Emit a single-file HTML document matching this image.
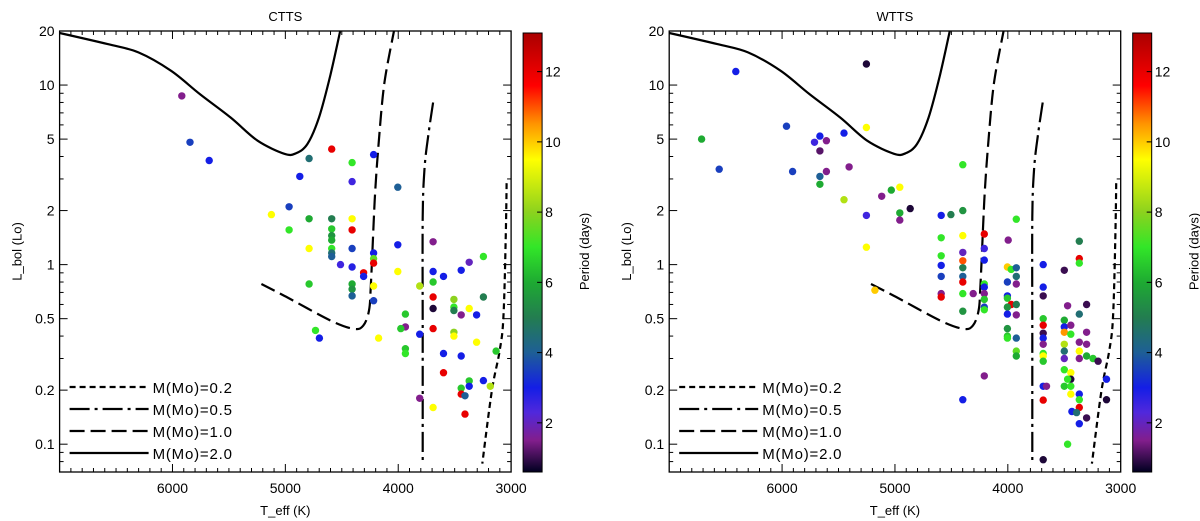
<!DOCTYPE html>
<html><head><meta charset="utf-8"><style>
html,body{margin:0;padding:0;background:#fff;}
svg{display:block;font-family:"Liberation Sans",sans-serif;}
</style></head>
<body>
<svg id="chart" width="1200" height="521" viewBox="0 0 1200 521">
<defs>
<linearGradient id="cmap" x1="0" y1="1" x2="0" y2="0"></linearGradient>
</defs>
</svg>
<script>
// ---- data ----
const panelTitles = ["CTTS", "WTTS"];
const xTicks = [6000, 5000, 4000, 3000];
const yTicks = [0.1, 0.2, 0.5, 1, 2, 5, 10, 20];
const yTickLabels = ["0.1", "0.2", "0.5", "1", "2", "5", "10", "20"];
const cbTicks = [2, 4, 6, 8, 10, 12];
const legendLabels = ["M(Mo)=0.2", "M(Mo)=0.5", "M(Mo)=1.0", "M(Mo)=2.0"];

// CTTS: T_eff, L_bol, period
const cttsT = [5917,5845,5675,4589,4790,4409,4218,4872,4409,4004,4967,5124,4790,4589,4409,4967,4589,4409,4589,4589,3691,4004,4790,4589,4409,4589,4589,4218,3245,4218,4511,4409,4218,3371,4004,3691,3442,3599,4307,4307,4790,4409,3691,3810,4218,4409,4409,3691,3245,3507,4218,3507,3691,3371,3507,3442,3306,3936,3936,3977,3691,3507,3810,4733,4698,4174,3507,3306,3936,3936,3133,3599,3442,3599,3245,3371,3371,3442,3184,3442,3408,3810,3691,3408];
const cttsL = [8.7,4.8,3.8,4.4,3.9,3.7,4.1,3.1,2.9,2.7,2.1,1.9,1.8,1.8,1.8,1.56,1.58,1.56,1.45,1.37,1.34,1.29,1.23,1.23,1.23,1.16,1.11,1.16,1.11,1.08,1.0,0.97,1.02,1.03,0.915,0.915,0.93,0.86,0.9,0.86,0.78,0.78,0.8,0.76,0.76,0.73,0.67,0.66,0.66,0.64,0.63,0.58,0.57,0.57,0.555,0.525,0.525,0.53,0.45,0.44,0.44,0.42,0.41,0.43,0.39,0.39,0.40,0.37,0.34,0.32,0.33,0.32,0.31,0.25,0.226,0.225,0.21,0.205,0.21,0.19,0.186,0.18,0.16,0.147];
const cttsP = [1.5,3.5,3,12,4.5,7,3,3,2.5,4,3.5,9.5,6,5,9.5,7,6.5,12,5.5,6,1.5,3,9.5,7,3.5,4.5,4,3,7,7.5,2.5,2.8,12,2,9.5,3,3,3,12,3,6.5,6,6.5,8.5,9.5,5.5,4,12,5,8,3.5,7,0.8,9.5,5,1.5,3,6.5,1.5,6.5,12,8,3,7,3,9.5,9.5,9.5,6.5,7,6.5,3,3,12,3,6.5,3,6.5,8.5,12,4,1.5,9.5,12];

// WTTS
const wttsT = [6410,5253,6713,5961,5713,5665,5607,5451,5253,5665,6557,5907,5665,5607,5406,5665,5032,4957,5117,5451,4865,4957,4957,5253,4590,4504,4399,4399,4399,5253,5178,3925,4208,3997,3367,4590,4399,4590,4399,4208,4208,4399,4590,4399,3687,4004,3970,3925,3500,3367,3367,4590,4399,3925,4004,4399,4208,3925,4208,3687,3687,4399,4307,4590,4590,4208,4208,4004,4004,3470,3302,4208,4208,3970,3925,4004,4399,4004,3925,3367,3687,3500,3687,3500,3442,4004,3687,3500,3442,3302,4004,4004,3925,3687,3687,3367,3302,3500,3367,3500,3925,3687,3925,3687,3500,3367,3302,3245,3200,3687,3500,3442,3442,3470,4208,3500,3442,3687,3657,3126,3442,3367,3367,3687,3126,3367,3432,3391,3302,3367,3470,3687];
const wttsL = [11.9,13.1,5.0,5.9,4.8,5.2,4.9,5.4,5.8,4.3,3.4,3.3,3.1,3.3,3.5,2.8,2.6,2.7,2.4,2.3,2.05,1.94,1.77,1.88,1.88,1.9,2.0,3.6,0.177,1.25,0.72,1.79,1.48,1.37,1.35,1.41,1.45,1.12,1.17,1.23,1.06,1.05,0.99,0.96,1.0,0.97,0.94,0.96,0.93,1.08,1.02,0.86,0.86,0.86,0.80,0.80,0.78,0.78,0.75,0.75,0.67,0.69,0.69,0.69,0.66,0.69,0.64,0.67,0.65,0.59,0.6,0.58,0.56,0.6,0.6,0.58,0.55,0.53,0.525,0.53,0.50,0.49,0.46,0.45,0.46,0.44,0.415,0.42,0.41,0.42,0.40,0.39,0.39,0.39,0.36,0.37,0.36,0.36,0.33,0.33,0.33,0.32,0.31,0.31,0.30,0.30,0.31,0.30,0.29,0.29,0.26,0.25,0.23,0.23,0.24,0.21,0.21,0.21,0.21,0.23,0.19,0.19,0.177,0.176,0.177,0.16,0.152,0.15,0.14,0.13,0.1,0.082];
const wttsP = [3,0.8,6,3.5,2.5,3,1.5,3,9.5,1.2,3.5,3.5,4,1.5,1.5,6,6,9.5,1.5,8.5,0.8,6,1.5,2.5,3,5,5.5,7,3,9.5,10,7,12,1.5,5,7,9.5,7,2,2.5,3,11,3,5,3,10,7,4,1,12,7,3.5,4,4.5,3.5,12,7,1.5,3,3,1,7,1.5,1.5,12,1.5,6.5,3,6.5,1.5,1,3.5,7,12,5,5.5,5.5,3,1.5,4.5,6.5,6,12,3,1.5,5.5,1,10.5,7,1.5,6.5,7,4,3,1.5,1.5,1.5,8.5,9.5,4.5,7.5,7,6,9.5,2,1.5,6,6.5,1,6.5,7,9.5,0.8,7,1.5,6.5,7,3,1.5,3,9.5,3,7,12,0.8,12,3,4.5,1,3,7,0.8];

// Evolutionary tracks (T_eff, L_bol)
const track02T = [3040,3047,3068,3102,3170,3255];
const track02L = [2.84,1.48,0.51,0.33,0.199,0.078];
const track05T = [3691,3732,3766,3783,3783,3783];
const track05L = [8.0,5.35,3.48,1.84,0.41,0.078];
const track10T = [5212,5008,4599,4395,4310,4259,4242,4208,4174,4123,4038];
const track10L = [0.78,0.67,0.488,0.439,0.457,0.555,0.78,2.28,4.7,10.2,19.9];
const track20T = [7000,6574,6302,6012,5757,5485,5246,5008,4906,4804,4702,4599,4514];
const track20L = [19.5,16.9,15.2,12.0,8.9,6.6,4.9,4.14,4.17,4.7,6.6,11.5,20];

// ---- layout ----
const svg = document.getElementById('chart');
const NS = 'http://www.w3.org/2000/svg';
const TOP = 31, BOT = 472, XMIN = 7000, XMAX = 3000, YMIN = 0.07, YMAX = 20, PMIN = 0.6, PMAX = 13.1;
const PW = 451.5;

function mk(tag, attrs, parent) {
  const e = document.createElementNS(NS, tag);
  for (const k in attrs) e.setAttribute(k, attrs[k]);
  (parent || svg).appendChild(e);
  return e;
}
function smoothPath(p) {
  let d = 'M' + p[0][0].toFixed(1) + ',' + p[0][1].toFixed(1);
  for (let i = 0; i < p.length - 1; i++) {
    const p0 = p[Math.max(0, i - 1)], p1 = p[i], p2 = p[i + 1], p3 = p[Math.min(p.length - 1, i + 2)];
    const c1x = p1[0] + (p2[0] - p0[0]) / 6, c1y = p1[1] + (p2[1] - p0[1]) / 6;
    const c2x = p2[0] - (p3[0] - p1[0]) / 6, c2y = p2[1] - (p3[1] - p1[1]) / 6;
    d += ' C' + [c1x, c1y, c2x, c2y, p2[0], p2[1]].map(v => v.toFixed(1)).join(',');
  }
  return d;
}
const cstops = [[0.6,[0,0,32]],[1.5,[130,30,140]],[2.3,[80,40,220]],[3,[20,30,230]],[4,[30,95,150]],[5,[35,125,80]],[6,[30,170,50]],[7,[50,230,40]],[8,[140,210,30]],[9.5,[255,255,0]],[10.5,[255,150,0]],[11.6,[255,0,0]],[13.1,[170,0,0]]];
function pcolor(p) {
  if (p <= cstops[0][0]) return 'rgb(' + cstops[0][1] + ')';
  for (let i = 1; i < cstops.length; i++) {
    if (p <= cstops[i][0]) {
      const a = cstops[i-1], b = cstops[i], t = (p - a[0]) / (b[0] - a[0]);
      const c = a[1].map((v, j) => Math.round(v + (b[1][j] - v) * t));
      return 'rgb(' + c.join(',') + ')';
    }
  }
  return 'rgb(' + cstops[cstops.length-1][1] + ')';
}
const grad = document.getElementById('cmap');
for (let i = 0; i < cstops.length; i++) {
  mk('stop', {offset: ((cstops[i][0]-PMIN)/(PMAX-PMIN)).toFixed(3), 'stop-color': pcolor(cstops[i][0])}, grad);
}

function drawPanel(idx, L, tT, tL, tP) {
  const g = mk('g', {});
  
  
  const sx = T => L + (XMIN - T) / (XMIN - XMAX) * PW;
  const sy = v => BOT - (Math.log10(v) - Math.log10(YMIN)) / (Math.log10(YMAX) - Math.log10(YMIN)) * (BOT - TOP);
  const R = L + PW;
  const title = mk('text', {x: (L + R) / 2, y: 21, 'font-size': 13, 'text-anchor': 'middle'}, g);
  title.textContent = panelTitles[idx];
  
  

  // tracks
  const tracks = [[track02T, track02L, '6,4'], [track05T, track05L, '20,5,3,5'], [track10T, track10L, '15,6'], [track20T, track20L, '']];
  const tnames = ['track-0.2', 'track-0.5', 'track-1.0', 'track-2.0'];
  tracks.forEach((tr, k) => {
    const pts = tr[0].map((T, i) => [sx(T), sy(tr[1][i])]);
    const pl = mk('path', {d: smoothPath(pts), fill: 'none', stroke: '#000', 'stroke-width': 2.2, 'stroke-dasharray': tr[2], 'stroke-linejoin': 'round'}, g);
    
    
  });

  // points
  tT.forEach((T, i) => {
    const c = mk('circle', {cx: sx(T).toFixed(1), cy: sy(tL[i]).toFixed(1), r: 3.7, fill: pcolor(tP[i])}, g);
    
    
  });

  // frame
  const fr = mk('rect', {x: L, y: TOP, width: PW, height: BOT - TOP, fill: 'none', stroke: '#000', 'stroke-width': 1.3}, g);
  
  

  // x ticks
  for (let T = 6900; T > 3000; T -= 100) {
    const major = T % 1000 === 0;
    mk('line', {x1: sx(T), x2: sx(T), y1: BOT, y2: BOT - (major ? 8 : 4), stroke: '#000', 'stroke-width': 1}, g);
    mk('line', {x1: sx(T), x2: sx(T), y1: TOP, y2: TOP + (major ? 8 : 4), stroke: '#000', 'stroke-width': 1}, g);
  }
  xTicks.forEach(T => {
    const t = mk('text', {x: sx(T), y: 493, 'font-size': 14, 'text-anchor': 'middle'}, g);
    t.textContent = T;
    
    
  });
  const xl = mk('text', {x: (L + R) / 2, y: 515, 'font-size': 13, 'text-anchor': 'middle'}, g);
  xl.textContent = 'T_eff (K)';
  
  

  // y minor ticks
  [0.07,0.08,0.09,0.3,0.4,0.6,0.7,0.8,0.9,3,4,6,7,8,9].forEach(v => {
    mk('line', {x1: L, x2: L + 4, y1: sy(v), y2: sy(v), stroke: '#000'}, g);
    mk('line', {x1: R, x2: R - 4, y1: sy(v), y2: sy(v), stroke: '#000'}, g);
  });
  yTicks.forEach((v, i) => {
    mk('line', {x1: L, x2: L + 8, y1: sy(v), y2: sy(v), stroke: '#000'}, g);
    mk('line', {x1: R, x2: R - 8, y1: sy(v), y2: sy(v), stroke: '#000'}, g);
    const t = mk('text', {x: L - 5, y: sy(v) + 5, 'font-size': 14, 'text-anchor': 'end'}, g);
    t.textContent = yTickLabels[i];
    
    
  });
  const yl = mk('text', {x: 0, y: 0, 'font-size': 13, 'text-anchor': 'middle', transform: 'translate(' + (L - 38) + ',' + ((TOP + BOT) / 2) + ') rotate(-90)'}, g);
  yl.textContent = 'L_bol (Lo)';
  
  

  // legend
  const dashes = ['6,4', '20,5,3,5', '15,6', ''];
  const lys = [387, 409, 431, 453];
  legendLabels.forEach((lab, k) => {
    const le = mk('g', {}, g);
    
    
    mk('line', {x1: L + 10, x2: L + 89, y1: lys[k], y2: lys[k], stroke: '#000', 'stroke-width': 2.2, 'stroke-dasharray': dashes[k]}, le);
    const t = mk('text', {x: L + 93, y: lys[k] + 6, 'font-size': 15, 'letter-spacing': 0.8}, le);
    t.textContent = lab;
  });

  // colorbar
  const cbx = R + 12;
  const cbw = 19;
  const cb = mk('rect', {x: cbx, y: 33, width: cbw, height: BOT - 33, fill: 'url(#cmap)', stroke: '#000', 'stroke-width': 1}, g);
  
  
  const cy = p => BOT - (p - PMIN) / (PMAX - PMIN) * (BOT - 33);
  cbTicks.forEach(p => {
    mk('line', {x1: cbx + cbw - 5, x2: cbx + cbw, y1: cy(p), y2: cy(p), stroke: '#000'}, g);
    const t = mk('text', {x: cbx + cbw + 3, y: cy(p) + 5, 'font-size': 14}, g);
    t.textContent = p;
    
    
  });
  const cl = mk('text', {x: 0, y: 0, 'font-size': 13, 'text-anchor': 'middle', transform: 'translate(' + (cbx + 66) + ',' + ((TOP + BOT) / 2) + ') rotate(-90)'}, g);
  cl.textContent = 'Period (days)';
  
  
}

drawPanel(0, 59.6, cttsT, cttsL, cttsP);
drawPanel(1, 669.2, wttsT, wttsL, wttsP);
</script>
</body></html>
